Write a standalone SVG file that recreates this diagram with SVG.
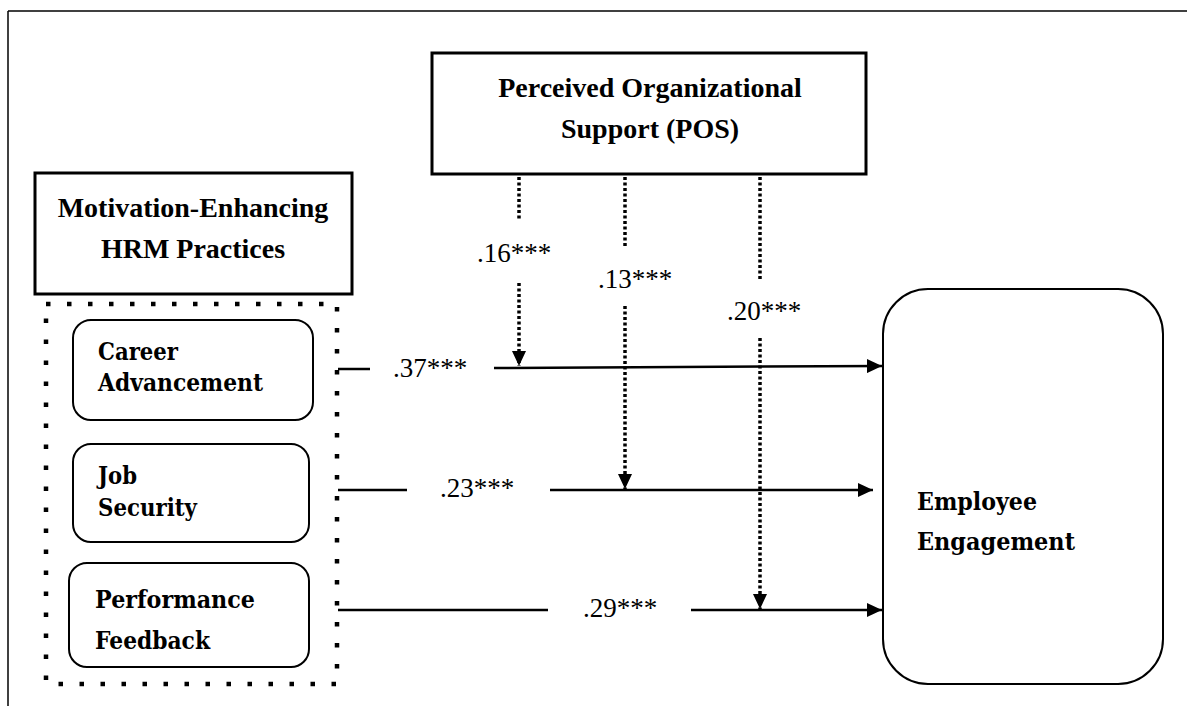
<svg xmlns="http://www.w3.org/2000/svg" width="1187" height="706" viewBox="0 0 1187 706">
<style>
.frame{stroke:#000;stroke-width:1.5;fill:none}
.box{fill:#fff;stroke:#000;stroke-width:3}
.rbox{fill:#fff;stroke:#000;stroke-width:2}
.dotbox{fill:none;stroke:#000;stroke-width:4.5;stroke-dasharray:4.5 16.5}
.tnr{font-family:"Liberation Serif","Times New Roman",serif;font-weight:bold;font-size:28px;fill:#000}
.cmb{font-family:"DejaVu Serif",serif;font-weight:bold;font-size:24px;fill:#000}
.lbl{font-family:"Liberation Serif","Times New Roman",serif;font-size:27px;fill:#000}
.solid{stroke:#000;stroke-width:2.5;fill:none}
.dot{stroke:#000;stroke-width:3.5;fill:none;stroke-dasharray:3 2.5}
</style>
<defs>
<marker id="arr" markerUnits="userSpaceOnUse" markerWidth="15" markerHeight="14" refX="15" refY="7" orient="auto">
<path d="M0,0 L15,7 L0,14 z" fill="#000"/>
</marker>
</defs>
<rect width="1187" height="706" fill="#fff"/>
<g id="frame">
<line class="frame" x1="8" y1="11" x2="1187" y2="11"/>
<line class="frame" x1="8" y1="11" x2="8" y2="706"/>
</g>
<g id="pos">
<rect class="box" x="432" y="53" width="434" height="121"/>
<text class="tnr" x="650" y="97" text-anchor="middle">Perceived Organizational</text>
<text class="tnr" x="650" y="138" text-anchor="middle">Support (POS)</text>
</g>
<g id="hrm">
<rect class="box" x="35" y="173" width="317" height="121"/>
<text class="tnr" x="193" y="217" text-anchor="middle">Motivation-Enhancing</text>
<text class="tnr" x="193" y="258" text-anchor="middle">HRM Practices</text>
</g>
<g id="practices">
<rect class="dotbox" x="46" y="304" width="291" height="380"/>
</g>
<g id="career">
<rect class="rbox" x="73" y="320" width="240" height="100" rx="18"/>
<text class="cmb" x="98" y="360" textLength="80" lengthAdjust="spacingAndGlyphs">Career</text>
<text class="cmb" x="98" y="391" textLength="165" lengthAdjust="spacingAndGlyphs">Advancement</text>
</g>
<g id="job">
<rect class="rbox" x="73" y="444" width="236" height="98" rx="18"/>
<text class="cmb" x="98" y="484" textLength="39" lengthAdjust="spacingAndGlyphs">Job</text>
<text class="cmb" x="98" y="516" textLength="99" lengthAdjust="spacingAndGlyphs">Security</text>
</g>
<g id="feedback">
<rect class="rbox" x="69" y="563" width="240" height="104" rx="18"/>
<text class="cmb" x="95" y="608" textLength="160" lengthAdjust="spacingAndGlyphs">Performance</text>
<text class="cmb" x="95" y="649" textLength="115" lengthAdjust="spacingAndGlyphs">Feedback</text>
</g>
<g id="engagement">
<rect class="rbox" x="883" y="289" width="280" height="395" rx="45"/>
<text class="cmb" x="917" y="510" textLength="120" lengthAdjust="spacingAndGlyphs">Employee</text>
<text class="cmb" x="917" y="550" textLength="158" lengthAdjust="spacingAndGlyphs">Engagement</text>
</g>
<g id="connectors">
<line class="solid" x1="338" y1="369" x2="370" y2="369"/>
<line class="solid" x1="494" y1="368" x2="882" y2="366" marker-end="url(#arr)"/>
<line class="solid" x1="338" y1="490" x2="407" y2="490"/>
<line class="solid" x1="550" y1="490" x2="873" y2="490" marker-end="url(#arr)"/>
<line class="solid" x1="338" y1="610" x2="548" y2="610"/>
<line class="solid" x1="691" y1="610" x2="882" y2="610" marker-end="url(#arr)"/>
<line class="dot" x1="519" y1="177" x2="519" y2="221"/>
<line class="dot" x1="519" y1="283" x2="519" y2="366" marker-end="url(#arr)"/>
<line class="dot" x1="625" y1="177" x2="625" y2="246"/>
<line class="dot" x1="625" y1="306" x2="625" y2="489" marker-end="url(#arr)"/>
<line class="dot" x1="760" y1="177" x2="760" y2="279"/>
<line class="dot" x1="760" y1="338" x2="760" y2="609" marker-end="url(#arr)"/>
</g>
<g id="labels">
<text class="lbl" x="393" y="377">.37***</text>
<text class="lbl" x="440" y="497">.23***</text>
<text class="lbl" x="583" y="617">.29***</text>
<text class="lbl" x="477" y="262">.16***</text>
<text class="lbl" x="598" y="288">.13***</text>
<text class="lbl" x="727" y="320">.20***</text>
</g>
</svg>
